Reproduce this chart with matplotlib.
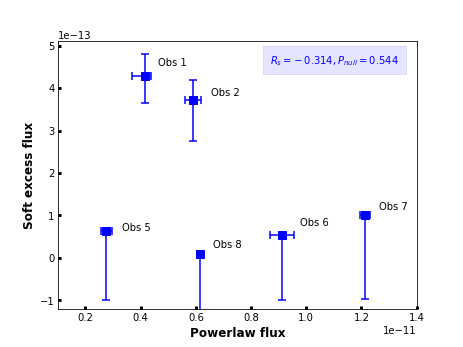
import matplotlib
matplotlib.use("Agg")
import matplotlib.pyplot as plt
import numpy as np

labels = ["Obs 1", "Obs 2", "Obs 5", "Obs 8", "Obs 6", "Obs 7"]
powerlaw = [0.417e-11, 0.590e-11, 0.276e-11, 0.615e-11, 0.913e-11, 1.211e-11]
px_lo = [0.050e-11, 0.029e-11, 0.018e-11, 0.0, 0.043e-11, 0.018e-11]
px_hi = [0.020e-11, 0.028e-11, 0.021e-11, 0.0, 0.042e-11, 0.019e-11]
soft = [4.28e-13, 3.73e-13, 0.644e-13, 0.094e-13, 0.542e-13, 1.007e-13]
sy_lo = [0.63e-13, 0.97e-13, 1.644e-13, 1.7e-13, 1.542e-13, 1.977e-13]
sy_hi = [0.53e-13, 0.47e-13, 0.05e-13, 0.0, 0.0, 0.0]
label_x = [0.461e-11, 0.653e-11, 0.334e-11, 0.663e-11, 0.976e-11, 1.263e-11]
label_y = [4.60e-13, 3.89e-13, 0.72e-13, 0.30e-13, 0.83e-13, 1.21e-13]
stats_text = r"$R_s = -\:0.314, P_{null} = 0.544$"

fig = plt.figure(figsize=(6.4, 4.8), dpi=463/6.4)
ax = fig.add_subplot(111)

ax.errorbar(powerlaw, soft, xerr=[px_lo, px_hi], yerr=[sy_lo, sy_hi],
            fmt='s', color='blue', ecolor='blue', markersize=7,
            elinewidth=1.5, capsize=3.5, capthick=1.5, linestyle='none')

for lx, ly, t in zip(label_x, label_y, labels):
    ax.text(lx, ly, t, fontsize=10, ha='left', va='center')

ax.text(0.95, 0.955, stats_text, transform=ax.transAxes, ha='right', va='top',
        color='blue', fontsize=10,
        bbox=dict(facecolor='blue', alpha=0.1, edgecolor='blue', boxstyle='square,pad=0.7'))

ax.set_xlim(0.1e-11, 1.4e-11)
ax.set_ylim(-1.2e-13, 5.1e-13)
ax.set_xticks([0.2e-11, 0.4e-11, 0.6e-11, 0.8e-11, 1.0e-11, 1.2e-11, 1.4e-11])
ax.set_yticks([-1e-13, 0, 1e-13, 2e-13, 3e-13, 4e-13, 5e-13])
ax.tick_params(direction='in', length=3, width=3, labelsize=10)
ax.xaxis.get_offset_text().set_fontsize(10)
ax.yaxis.get_offset_text().set_fontsize(10)

ax.set_xlabel("Powerlaw flux", fontsize=12, fontweight='bold')
ax.set_ylabel("Soft excess flux", fontsize=12, fontweight='bold')

fig.savefig("out.png", dpi=463/6.4)
